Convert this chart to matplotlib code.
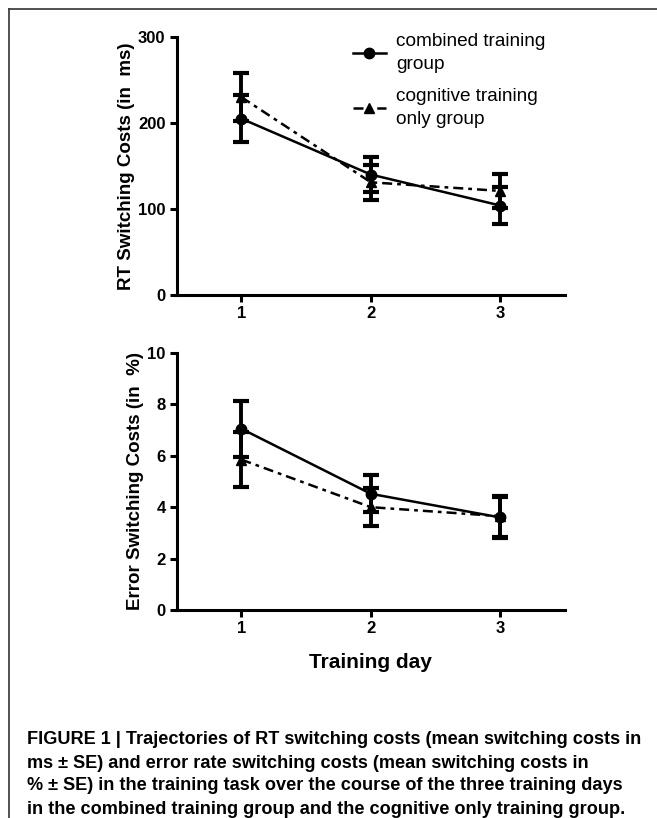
import matplotlib.pyplot as plt
from matplotlib.lines import Line2D

# Data
DAYS = [1, 2, 3]
RT_COMBINED = [205, 140, 104]
RT_COMBINED_SE = [27, 20, 21]
RT_COGNITIVE = [230, 131, 121]
RT_COGNITIVE_SE = [28, 20, 20]
ERR_COMBINED = [7.05, 4.52, 3.6]
ERR_COMBINED_SE = [1.1, 0.72, 0.8]
ERR_COGNITIVE = [5.85, 4.0, 3.65]
ERR_COGNITIVE_SE = [1.07, 0.75, 0.8]

CAPTION = [
    "FIGURE 1 | Trajectories of RT switching costs (mean switching costs in",
    "ms \u00b1 SE) and error rate switching costs (mean switching costs in",
    "% \u00b1 SE) in the training task over the course of the three training days",
    "in the combined training group and the cognitive only training group.",
]

plt.rcParams["font.family"] = ["Liberation Sans", "DejaVu Sans"]

fig = plt.figure(figsize=(6.57, 8.18), dpi=100)
ax1 = fig.add_axes([0.269, 0.6394, 0.591, 0.3154])
ax2 = fig.add_axes([0.269, 0.2543, 0.591, 0.3142])

dashdot = (0, (4, 2, 1.5, 2))


def draw(ax, comb, comb_se, cog, cog_se):
    ax.errorbar(DAYS, comb, yerr=comb_se, color="black", lw=1.8, ls="-",
                marker="o", ms=7.5, capsize=5.5, capthick=3, elinewidth=2.8,
                label="combined training\ngroup")
    ax.errorbar(DAYS, cog, yerr=cog_se, color="black", lw=1.8, ls=dashdot,
                marker="^", ms=7.5, capsize=5.5, capthick=3, elinewidth=2.8,
                label="cognitive training\nonly group")
    ax.set_xlim(0.5, 3.5)
    ax.set_xticks(DAYS)
    for s in ["top", "right"]:
        ax.spines[s].set_visible(False)
    for s in ["left", "bottom"]:
        ax.spines[s].set_linewidth(2.2)
    ax.tick_params(width=2.2, length=5, labelsize=12, pad=3)
    for lab in ax.get_xticklabels() + ax.get_yticklabels():
        lab.set_fontweight("bold")


draw(ax1, RT_COMBINED, RT_COMBINED_SE, RT_COGNITIVE, RT_COGNITIVE_SE)
ax1.set_ylim(0, 300)
ax1.set_yticks([0, 100, 200, 300])
ax1.set_ylabel("RT Switching Costs (in  ms)", fontsize=13.5, fontweight="bold",
               labelpad=2)

handles, labels = ax1.get_legend_handles_labels()
handles = [h[0] for h in handles]
leg = ax1.legend(handles, labels, loc="upper left", bbox_to_anchor=(0.435, 1.045),
                 frameon=False, fontsize=13.7, handlelength=1.7, handletextpad=0.55,
                 labelspacing=0.75, borderaxespad=0)
for t in leg.get_texts():
    t.set_linespacing(1.5)

draw(ax2, ERR_COMBINED, ERR_COMBINED_SE, ERR_COGNITIVE, ERR_COGNITIVE_SE)
ax2.set_ylim(0, 10)
ax2.set_yticks([0, 2, 4, 6, 8, 10])
ax2.set_ylabel("Error Switching Costs (in  %)", fontsize=13.5, fontweight="bold",
               labelpad=2)
ax2.set_xlabel("Training day", fontsize=15, fontweight="bold", labelpad=12)

# frame lines (top and left)
fig.add_artist(Line2D([9 / 657, 1], [1 - 9 / 818, 1 - 9 / 818], color="#333333", lw=1.2))
fig.add_artist(Line2D([9 / 657, 9 / 657], [0, 1 - 9 / 818], color="#333333", lw=1.2))

for i, line in enumerate(CAPTION):
    fig.text(27 / 657, 1 - (740 + i * 23) / 818, line, fontsize=13.1,
             fontweight="bold", va="center", ha="left")

fig.savefig("out.png", dpi=100)
